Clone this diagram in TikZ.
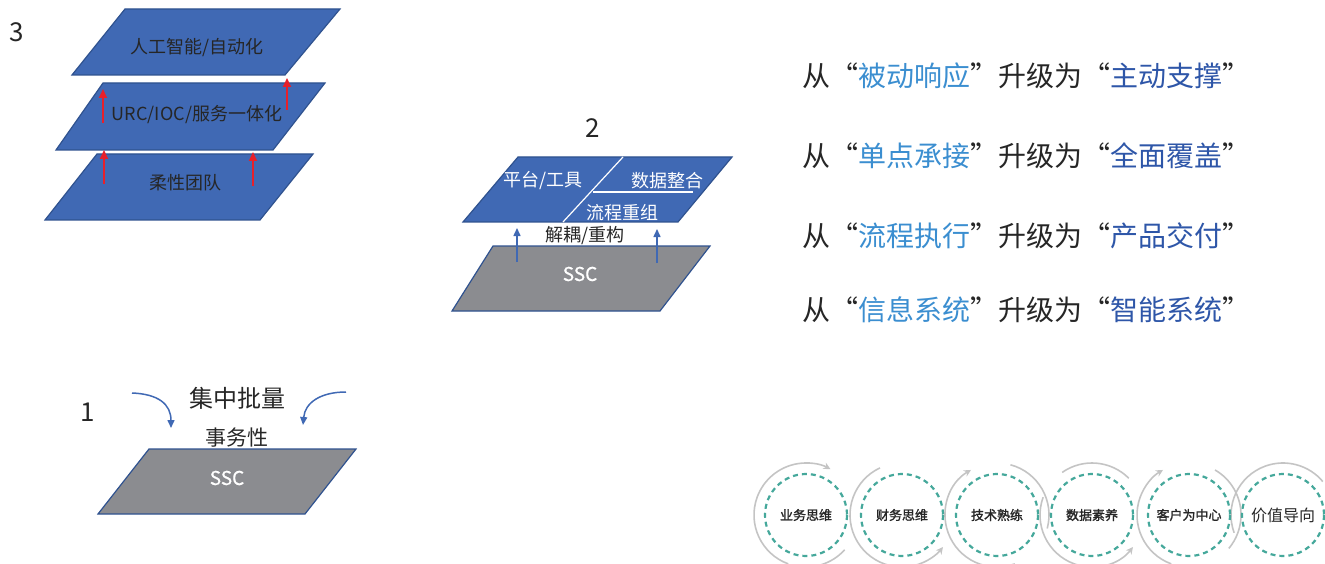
\documentclass[tikz,border=0pt]{standalone}
\usepackage{fontspec}
\setmainfont{Noto Sans CJK SC}
\newfontfamily\cjkbold[FakeBold=1.6]{Noto Sans CJK SC}
\newfontfamily\cjksemi[FakeBold=0.8]{Noto Sans CJK SC}
\usetikzlibrary{arrows.meta}
\definecolor{pblue}{HTML}{4069B4}
\definecolor{pborder}{HTML}{2F528F}
\definecolor{pgray}{HTML}{8B8C90}
\definecolor{ared}{HTML}{E8202A}
\definecolor{lblue}{HTML}{3B8ED0}
\definecolor{dblue}{HTML}{2E56A8}
\definecolor{txt}{HTML}{262626}
\definecolor{cteal}{HTML}{45A89B}
\definecolor{arcgray}{HTML}{C4C4C4}
\newcommand{\oq}{\makebox[1em][r]{“}}
\newcommand{\cq}{\makebox[1em][l]{”}}
\tikzset{
  plane/.style={fill=pblue, draw=pborder, line width=1.2pt},
  splane/.style={fill=pgray, draw=pborder, line width=1.2pt},
  redarrow/.style={draw=ared, line width=1.8pt, -{Triangle[length=9pt,width=8pt]}},
  bluearrow/.style={draw=pblue, line width=1.5pt, -{Triangle[length=8pt,width=7pt]}},
  dtext/.style={text=txt, inner sep=0pt, font=\fontsize{18}{20}\selectfont},
  wtext/.style={text=white, inner sep=0pt, font=\fontsize{18}{20}\selectfont},
  ssctext/.style={text=white, inner sep=0pt, font=\cjksemi\fontsize{19}{21}\selectfont},
  numtext/.style={text=txt, inner sep=0pt, font=\fontsize{26}{28}\selectfont},
  rline/.style={text=txt, inner sep=0pt, anchor=west, font=\fontsize{28}{30}\selectfont},
  dcircle/.style={draw=cteal, line width=2.2pt, dash pattern=on 5pt off 4pt},
  garc/.style={draw=arcgray, line width=1.6pt},
  garcarrow/.style={draw=arcgray, line width=1.6pt, -{Stealth[length=7pt,width=7pt]}},
  ctext/.style={text=txt, inner sep=0pt, font=\cjkbold\fontsize{13}{15}\selectfont},
}
\begin{document}
\begin{tikzpicture}[x=1pt,y=-1pt]
\useasboundingbox (0,0) rectangle (1325,564);

% ---------- diagram 3 ----------
\node[numtext] (n3) at (17,32) {3};
\draw[plane] (125,9) -- (340,9) -- (285,75) -- (72,75) -- cycle;
\draw[plane] (103,83) -- (325,83) -- (273,150) -- (56,150) -- cycle;
\draw[plane] (97,154) -- (313,154) -- (260,220) -- (45,220) -- cycle;
\node[dtext] (ai) at (197,48) {人工智能/自动化};
\node[dtext] (urc) at (197,115) {URC/IOC/服务一体化};
\node[dtext] (team) at (185,183) {柔性团队};
\coordinate (r1s) at (103,123); \coordinate (r1e) at (103,89);
\coordinate (r2s) at (287,110); \coordinate (r2e) at (287,78);
\coordinate (r3s) at (104,184); \coordinate (r3e) at (104,150);
\coordinate (r4s) at (253,186); \coordinate (r4e) at (253,152);
\draw[redarrow] (r1s) -- (r1e);
\draw[redarrow] (r2s) -- (r2e);
\draw[redarrow] (r3s) -- (r3e);
\draw[redarrow] (r4s) -- (r4e);

% ---------- diagram 2 ----------
\node[numtext] (n2) at (593,128) {2};
\draw[plane] (518,157) -- (732,157) -- (678,222) -- (463,222) -- cycle;
\draw[white, line width=1.2pt] (623,157) -- (563,222);
\draw[white, line width=1.2pt] (593,192) -- (693,192);
\node[wtext] (plat) at (543,181) {平台/工具};
\node[wtext] (data) at (667,181) {数据整合};
\node[wtext] (flow) at (622,213) {流程重组};
\draw[splane] (493,246) -- (710,246) -- (660,311) -- (452,311) -- cycle;
\node[ssctext] (ssc2) at (580,274) {SSC};
\coordinate (b1s) at (517,262); \coordinate (b1e) at (517,228);
\coordinate (b2s) at (657,263); \coordinate (b2e) at (657,229);
\draw[bluearrow] (b1s) -- (b1e);
\draw[bluearrow] (b2s) -- (b2e);
\node[dtext] (decouple) at (585,236) {解耦/重构};

% ---------- diagram 1 ----------
\node[numtext] (n1) at (88,412) {1};
\node[text=txt, inner sep=0pt, font=\fontsize{24}{26}\selectfont] (batch) at (237,398) {集中批量};
\node[text=txt, inner sep=0pt, font=\fontsize{21}{23}\selectfont] (trans) at (237,438) {事务性};
\draw[splane] (149,449) -- (356,449) -- (305,514) -- (98,514) -- cycle;
\node[ssctext] (ssc1) at (227,478) {SSC};
\coordinate (c1s) at (132,393); \coordinate (c1e) at (171,428);
\coordinate (c2s) at (346,392); \coordinate (c2e) at (303,425);
\draw[bluearrow] (c1s) .. controls (158,394) and (171,404) .. (c1e);
\draw[bluearrow] (c2s) .. controls (320,392) and (305,403) .. (c2e);

% ---------- right text ----------
\node[rline] (t1) at (802,76) {从\oq{\color{lblue}被动响应}\cq 升级为\oq{\color{dblue}主动支撑}\cq};
\node[rline] (t2) at (802,156) {从\oq{\color{lblue}单点承接}\cq 升级为\oq{\color{dblue}全面覆盖}\cq};
\node[rline] (t3) at (802,236) {从\oq{\color{lblue}流程执行}\cq 升级为\oq{\color{dblue}产品交付}\cq};
\node[rline] (t4) at (802,310) {从\oq{\color{lblue}信息系统}\cq 升级为\oq{\color{dblue}智能系统}\cq};

% ---------- circles ----------
\coordinate (k1) at (806,515);
\coordinate (k2) at (902,515);
\coordinate (k3) at (997,515);
\coordinate (k4) at (1092,515);
\coordinate (k5) at (1189,515);
\coordinate (k6) at (1283,515);
\draw[garcarrow] (k1) ++(-250:52) arc[start angle=-250, end angle=-62, radius=52];
\draw[garc] (k1) ++(-255:52) arc[start angle=-255, end angle=-318, radius=52];
\draw[garcarrow] (k2) ++(-115:52) arc[start angle=-115, end angle=-322, radius=52];
\draw[garcarrow] (k3) ++(-290:52) arc[start angle=-290, end angle=-120, radius=52];
\draw[garc] (k3) ++(-75:52) arc[start angle=-75, end angle=15, radius=52];
\draw[garcarrow] (k4) ++(-160:52) arc[start angle=-160, end angle=-322, radius=52];
\draw[garc] (k4) ++(-125:52) arc[start angle=-125, end angle=-45, radius=52];
\draw[garcarrow] (k5) ++(-250:52) arc[start angle=-250, end angle=-120, radius=52];
\draw[garc] (k5) ++(-60:52) arc[start angle=-60, end angle=40, radius=52];
\draw[garc] (k6) ++(-200:52) arc[start angle=-200, end angle=-40, radius=52];
\foreach \k in {k1,k2,k3,k4,k5,k6} \draw[dcircle] (\k) circle[radius=41];
\node[ctext] (w1) at (k1) {业务思维};
\node[ctext] (w2) at (k2) {财务思维};
\node[ctext] (w3) at (k3) {技术熟练};
\node[ctext] (w4) at (k4) {数据素养};
\node[ctext] (w5) at (k5) {客户为中心};
\node[text=txt, inner sep=0pt, font=\fontsize{16}{18}\selectfont] (w6) at (k6) {价值导向};
\end{tikzpicture}
\end{document}
